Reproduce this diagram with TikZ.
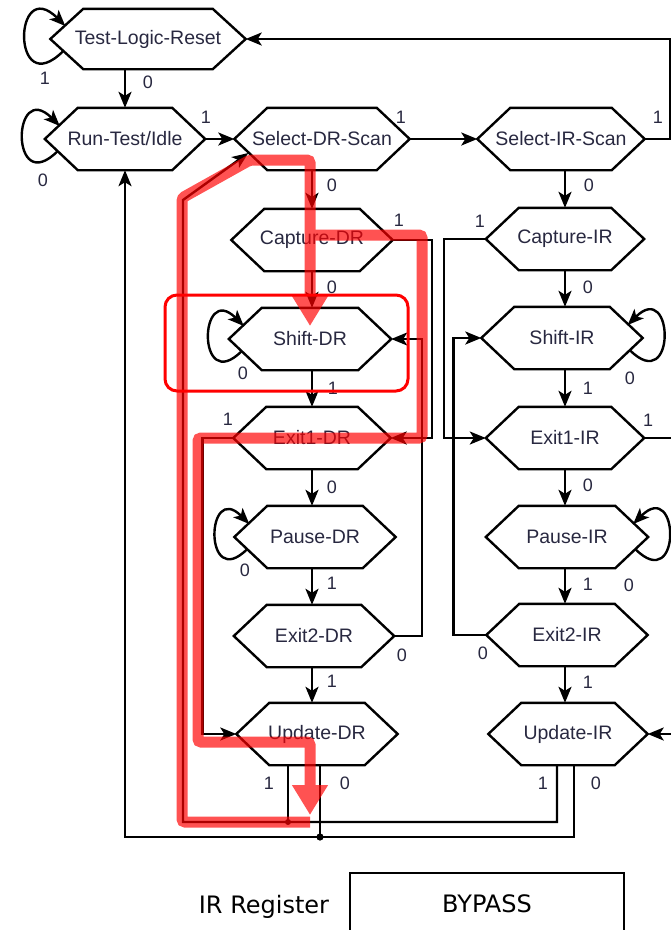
\documentclass[tikz,border=0pt]{standalone}
\usepackage{fontspec}
\setmainfont{Liberation Sans}
\newfontfamily\regfont{DejaVu Sans}
\usetikzlibrary{arrows.meta}
\definecolor{txt}{RGB}{40,40,64}

\begin{document}
\begin{tikzpicture}[
  x=1pt, y=1pt, line width=2.4pt,
  tap/.style={rectangle,inner sep=0pt,minimum width=158pt,minimum height=60pt,text=txt,font=\fontsize{19.5}{20}\selectfont},
  lab/.style={inner sep=0pt,text=txt,font=\fontsize{18}{18}\selectfont},
  arr/.style={-{Stealth[length=16pt,width=13pt,inset=4pt]}},
  hl/.style={draw=red,line width=11pt,rounded corners=3pt},
  hltip/.style={-{Triangle[length=30pt,width=34pt]}}
]
  \useasboundingbox (0,0) rectangle (671,-930);
  \coordinate (dcol) at (312,0);
  \coordinate (icol) at (565,0);
  \coordinate (j1) at (288,-822);
  \coordinate (j0) at (320,-837);
  \coordinate (k1) at (557,-822);
  \coordinate (k0) at (574,-837);

  \node[tap,minimum width=193pt,minimum height=58pt] (tlr) at (148,-39) {Test-Logic-Reset};
  \node[tap] (rti) at (125,-139) {Run-Test/Idle};
  \node[tap,minimum width=173pt] (sdr) at (322,-139) {Select-DR-Scan};
  \node[tap,minimum width=165pt] (sir) at (561,-139) {Select-IR-Scan};
  \node[tap,minimum width=159pt] (cdr) at (312,-240) {Capture-DR};
  \node[tap,minimum width=160pt] (shdr) at (310,-339) {Shift-DR};
  \node[tap,minimum width=155pt] (e1dr) at (312,-438) {Exit1-DR};
  \node[tap,minimum width=159pt] (pdr) at (315,-537) {Pause-DR};
  \node[tap] (e2dr) at (314,-636) {Exit2-DR};
  \node[tap,minimum width=159pt] (udr) at (317,-734) {Update-DR};
  \node[tap,minimum width=156pt] (cir) at (565,-239) {Capture-IR};
  \node[tap,minimum width=159pt] (shir) at (562,-338) {Shift-IR};
  \node[tap,minimum width=156pt] (e1ir) at (565,-438) {Exit1-IR};
  \node[tap,minimum width=160pt] (pir) at (567,-537) {Pause-IR};
  \node[tap,minimum width=159pt] (e2ir) at (567,-635) {Exit2-IR};
  \node[tap,minimum width=157pt] (uir) at (568,-734) {Update-IR};
  \foreach \n in {tlr,rti,sdr,sir,cdr,shdr,e1dr,pdr,e2dr,udr,cir,shir,e1ir,pir,e2ir,uir}
    \draw[line join=miter] (\n.west) -- ([xshift=33pt]\n.north west) -- ([xshift=-33pt]\n.north east)
      -- (\n.east) -- ([xshift=-33pt]\n.south east) -- ([xshift=33pt]\n.south west) -- cycle;

  \draw[arr] (rti.north |- tlr.south) -- (rti.north);
  \draw[arr] (rti.east) -- (sdr.west);
  \draw[arr] (sdr.east) -- (sir.west);
  \draw[arr] (sir.east) -- ++(25,0) |- (tlr.east);
  \draw[arr] (sdr.south -| dcol) -- (cdr.north -| dcol);
  \draw[arr] (cdr.south -| dcol) -- (shdr.north -| dcol);
  \draw[arr] (shdr.south -| dcol) -- (e1dr.north -| dcol);
  \draw[arr] (e1dr.south -| dcol) -- (pdr.north -| dcol);
  \draw[arr] (pdr.south -| dcol) -- (e2dr.north -| dcol);
  \draw[arr] (e2dr.south -| dcol) -- (udr.north -| dcol);
  \draw[arr] (sir.south -| icol) -- (cir.north -| icol);
  \draw[arr] (cir.south -| icol) -- (shir.north -| icol);
  \draw[arr] (shir.south -| icol) -- (e1ir.north -| icol);
  \draw[arr] (e1ir.south -| icol) -- (pir.north -| icol);
  \draw[arr] (pir.south -| icol) -- (e2ir.north -| icol);
  \draw[arr] (e2ir.south -| icol) -- (uir.north -| icol);

  \draw[arr] (cdr.east) -- ++(39,0) |- (e1dr.east);
  \draw[arr] (e2dr.east) -- ++(28,0) |- (shdr.east);
  \draw[arr] (e1dr.west) -- ++(-31,0) |- (udr.west);
  \draw[arr] (cir.west) -- ++(-42,0) |- (e1ir.west);
  \draw[arr] (e2ir.west) -- ++(-33,0) |- (shir.west);
  \draw[arr] (e1ir.east) -- ++(40,0) |- (uir.east);

  \draw[arr] ([shift={(13,-12)}]tlr.west) .. controls +(225:74) and +(135:74) .. ([shift={(15,13)}]tlr.west);
  \draw[arr] ([shift={(13,-12)}]rti.west) .. controls +(225:68) and +(135:68) .. ([shift={(15,13)}]rti.west);
  \draw[arr] ([shift={(13,-12)}]shdr.west) .. controls +(225:64) and +(135:64) .. ([shift={(15,13)}]shdr.west);
  \draw[arr] ([shift={(13,-12)}]pdr.west) .. controls +(225:62) and +(135:62) .. ([shift={(15,13)}]pdr.west);
  \draw[arr] ([shift={(-13,-12)}]shir.east) .. controls +(-45:66) and +(45:66) .. ([shift={(-15,13)}]shir.east);
  \draw[arr] ([shift={(-13,-12)}]pir.east) .. controls +(-45:66) and +(45:66) .. ([shift={(-15,13)}]pir.east);

  \draw (udr.south -| j1) -- (j1);
  \draw (udr.south -| j0) -- (j0);
  \draw[arr] (uir.south -| k1) -- (k1) -- (j1) -- ++(-105,0) -- ++(0,622) -- ([shift={(14,-14)}]sdr.west);
  \draw[arr] (uir.south -| k0) -- (k0) -- (j0) -| (rti.south);
  \fill (j0) circle (3.6);
  \fill (j1) circle (3);

  \node[lab] (l1) at (45,-78) {1};
  \node[lab] (l2) at (148,-82) {0};
  \node[lab] (l3) at (43,-180) {0};
  \node[lab] (l4) at (206,-117) {1};
  \node[lab] (l5) at (401,-117) {1};
  \node[lab] (l6) at (658,-117) {1};
  \node[lab] (l7) at (332,-185) {0};
  \node[lab] (l8) at (589,-185) {0};
  \node[lab] (l9) at (399,-220) {1};
  \node[lab] (l10) at (480,-221) {1};
  \node[lab] (l11) at (332,-287) {0};
  \node[lab] (l12) at (588,-287) {0};
  \node[lab] (l13) at (243,-373) {0};
  \node[lab] (l14) at (630,-378) {0};
  \node[lab] (l15) at (333,-388) {1};
  \node[lab] (l16) at (588,-388) {1};
  \node[lab] (l17) at (228,-419) {1};
  \node[lab] (l18) at (648,-420) {1};
  \node[lab] (l19) at (332,-487) {0};
  \node[lab] (l20) at (588,-485) {0};
  \node[lab] (l21) at (245,-570) {0};
  \node[lab] (l22) at (332,-583) {1};
  \node[lab] (l23) at (588,-584) {1};
  \node[lab] (l24) at (629,-585) {0};
  \node[lab] (l25) at (402,-655) {0};
  \node[lab] (l26) at (483,-653) {0};
  \node[lab] (l27) at (332,-681) {1};
  \node[lab] (l28) at (588,-682) {1};
  \node[lab] (l29) at (269,-783) {1};
  \node[lab] (l30) at (345,-783) {0};
  \node[lab] (l31) at (543,-783) {1};
  \node[lab] (l32) at (596,-783) {0};

  \begin{scope}[transparency group,opacity=0.68]
    \draw[hl] (310,-235) -- (310,-160) -- (250,-160) -- (182,-198) -- (182,-822) -- (310,-822);
    \draw[hl,hltip] (310,-235) -- (422,-235) -- (422,-438) -- (198,-438) -- (198,-742) -- (310,-742) -- (310,-815);
    \draw[hl,hltip] (310,-235) -- (310,-326);
  \end{scope}
  \draw[red,line width=3pt,rounded corners=12pt] (165,-295) rectangle (408,-391);

  \node[anchor=base,font=\regfont\fontsize{24}{24}\selectfont] (irreg) at (264,-913) {IR Register};
  \node[draw,minimum width=274pt,minimum height=62pt,font=\regfont\fontsize{24}{24}\selectfont] (bypass) at (487,-904) {BYPASS};
\end{tikzpicture}
\end{document}
